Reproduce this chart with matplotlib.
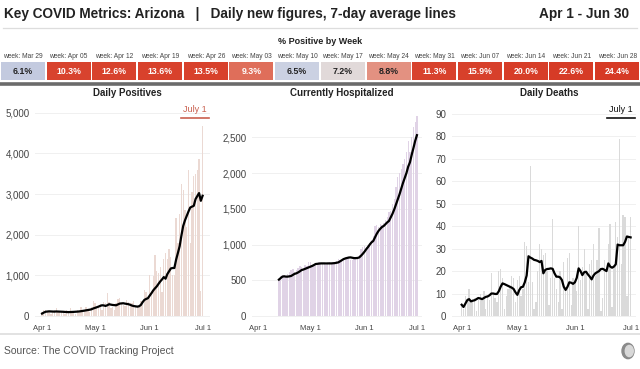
import matplotlib.pyplot as plt
import numpy as np
from matplotlib.colors import LinearSegmentedColormap
from matplotlib.lines import Line2D
from matplotlib.patches import Ellipse

plt.rcParams['font.family'] = ['Liberation Sans', 'DejaVu Sans']

# % positive by week
weeks = ["week: Mar 29", "week: Apr 05", "week: Apr 12", "week: Apr 19", "week: Apr 26",
         "week: May 03", "week: May 10", "week: May 17", "week: May 24", "week: May 31",
         "week: Jun 07", "week: Jun 14", "week: Jun 21", "week: Jun 28"]
pct_pos = [6.1, 10.3, 12.6, 13.6, 13.5, 9.3, 6.5, 7.2, 8.8, 11.3, 15.9, 20.0, 22.6, 24.4]

# days Apr 1 .. Jul 1
positives = [90, 140, 150, 120, 110, 60, 130, 150, 200, 120,
             110, 100, 130, 40, 150, 110, 200, 120, 90, 50,
             140, 110, 210, 150, 130, 230, 120, 100, 230, 380,
             330, 220, 200, 300, 140, 350, 320, 560, 350, 190,
             230, 150, 330, 420, 450, 330, 260, 240, 400, 350,
             320, 330, 370, 250, 220, 250, 370, 380, 650, 600, 410,
             1000, 520, 975, 1500, 1100, 1050, 1200, 600, 1400, 1550,
             1400, 1650, 1450, 1000, 1000, 2400, 1800, 2500, 3250, 3100,
             2600, 2200, 3600, 1800, 3050, 3450, 3500, 3600, 3850, 620, 4680]
positives_avg = [60, 85, 105, 110, 115, 112, 110, 108, 112, 110,
                 108, 106, 104, 100, 98, 96, 98, 100, 102, 105,
                 108, 112, 118, 125, 132, 140, 148, 155, 165, 185,
                 200, 215, 231, 250, 264, 260, 248, 265, 290, 280,
                 272, 268, 264, 285, 305, 310, 314, 305, 298, 290,
                 275, 256, 245, 238, 231, 240, 272, 340, 396, 420, 438,
                 500, 560, 628, 680, 727, 790, 850, 900, 958, 917,
                 1030, 1100, 1170, 1181, 1181, 1388, 1550, 1718, 1980, 2214,
                 2350, 2461, 2570, 2668, 2690, 2709, 2874, 2950, 3023, 2833, 2957]

hosp_start = 12  # first reported day (Apr 13)
hospitalized = [520, 560, 570, 580, 565, 590, 610, 640,
                655, 610, 640, 670, 700, 690, 660, 720, 700, 750,
                760, 720, 700, 740, 730, 760, 745, 730, 740, 720,
                745, 750, 730, 745, 760, 770, 800, 790, 790, 810,
                830, 800, 810, 790, 780, 800, 810, 820, 850, 940, 960,
                980, 970, 1000, 1020, 1060, 1120, 1260, 1270, 1250, 1290,
                1280, 1300, 1350, 1390, 1460, 1470, 1560, 1640, 1800, 1950,
                2000, 2050, 2130, 2200, 2300, 2450, 2300, 2500, 2650, 2720, 2800]
hospitalized_avg = [509, 530, 551, 555, 551, 551, 555, 560,
                    575, 590, 597, 610, 625, 643, 650, 660, 670, 680,
                    690, 700, 712, 727, 730, 733, 736, 736, 736, 735,
                    736, 736, 736, 738, 740, 745, 750, 765, 780, 796,
                    805, 812, 818, 820, 815, 810, 810, 812, 820, 843, 870,
                    900, 935, 965, 1000, 1030, 1050, 1100, 1150, 1190, 1220,
                    1245, 1260, 1285, 1310, 1330, 1380, 1430, 1490, 1560, 1630,
                    1700, 1780, 1860, 1930, 2000, 2090, 2150, 2255, 2350, 2450, 2530]

deaths = [5, 3, 9, 8, 12, 7, 6, 8, 2, 7,
          10, 8, 11, 3, 9, 7, 19, 10, 8, 6,
          20, 21, 17, 3, 9, 12, 13, 18, 17, 6,
          16, 18, 9, 12, 33, 31, 15, 67, 15, 3,
          6, 20, 32, 30, 27, 28, 20, 5, 17, 43,
          17, 12, 6, 20, 3, 24, 12, 26, 28, 5, 17,
          15, 11, 40, 16, 22, 30, 20, 3, 23, 25,
          32, 18, 25, 39, 2, 8, 25, 20, 32, 41,
          4, 22, 42, 35, 79, 23, 45, 44, 9, 35, 44]
deaths_avg = [5, 4, 5.5, 7, 7.5, 6.5, 6.8, 7, 7.5, 8,
              7.8, 7.5, 8, 8.5, 8.7, 9.2, 10, 10, 9.8, 9.8,
              11, 13, 14.5, 14.2, 13.8, 13.4, 13, 12.6, 12, 10.5,
              9.4, 11.5, 12.8, 13, 15, 18, 26.6, 26, 25.6, 25,
              24.8, 24.5, 24, 24.5, 19, 20.5, 20.9, 21, 21.2, 21,
              19, 17.5, 17.5, 17.2, 16, 13, 11.6, 13, 15, 14.8, 14.3,
              15, 17, 21.2, 20, 18.2, 19.5, 19.7, 18.5, 17.5, 16.3,
              18, 19, 19.5, 20, 20.9, 21, 20.5, 20, 23.4, 22,
              21.5, 22, 23, 31.8, 31.5, 31.5, 31.5, 33, 35.4, 35.2, 35]

tick_days = [0, 30, 61, 91]
tick_labels = ["Apr 1", "May 1", "Jun 1", "Jul 1"]

W, H = 640, 369
fig = plt.figure(figsize=(6.4, 3.69), dpi=100)

def fx(px):
    return px / W

def fy(py):
    return 1 - py / H

# header
fig.text(fx(4), fy(14), "Key COVID Metrics: Arizona   |   Daily new figures, 7-day average lines",
         fontsize=9.8, fontweight='bold', color='#222222', va='center', ha='left')
fig.text(fx(629), fy(14), "Apr 1 - Jun 30", fontsize=9.8, fontweight='bold',
         color='#222222', va='center', ha='right')
fig.add_artist(Line2D([fx(3), fx(637)], [fy(28), fy(28)], color='#dddddd', lw=0.9))

# % positive strip
fig.text(0.5, fy(41), "% Positive by Week", fontsize=6.5, fontweight='bold',
         color='#222222', ha='center', va='center')
cmap = LinearSegmentedColormap.from_list(
    'pos', [(0.0, '#bfc8de'), (0.035, '#c4cbdf'), (0.055, '#cdd3e3'), (0.09, '#e3dad8'),
            (0.17, '#e3907f'), (0.195, '#df6a55'), (0.245, '#d8432e'), (1.0, '#d63a25')])
ax_t = fig.add_axes([0, fy(80), 1, 18 / H])
vals = np.array(pct_pos)
cols = cmap((vals - 5.5) / (25 - 5.5))
ax_t.bar(np.arange(len(vals)), 1, width=0.965, color=cols)
for i, v in enumerate(vals):
    ax_t.text(i, 0.5, f"{v:.1f}%", ha='center', va='center', fontsize=6.3,
              fontweight='bold', color='white' if v > 9 else '#222222')
    ax_t.text(i, 1.3, weeks[i], ha='center', va='center', fontsize=4.8, color='#444444')
ax_t.set_xlim(-0.5, len(vals) - 0.5)
ax_t.set_ylim(0, 1)
ax_t.axis('off')
fig.add_artist(Line2D([0, 1], [fy(83.5), fy(83.5)], color='#6b6b6b', lw=2.6))

# panels
ax_bottom = fy(320)
ax_h = 220 / H
panels = [
    dict(left=35, right=210, xlim=(-4, 95.2), ylim=(-98, 5312), title="Daily Positives",
         y=positives, avg=positives_avg, start=0, bar='#ebd9d3',
         yticks=[0, 1000, 2000, 3000, 4000, 5000], note='#c9604f'),
    dict(left=252, right=422, xlim=(-3.4, 93.9), ylim=(-56, 3022), title="Currently Hospitalized",
         y=hospitalized, avg=hospitalized_avg, start=hosp_start, bar='#e0d3e6',
         yticks=[0, 500, 1000, 1500, 2000, 2500], note=None),
    dict(left=452, right=636, xlim=(-5.2, 93.9), ylim=(-1.8, 96.2), title="Daily Deaths",
         y=deaths, avg=deaths_avg, start=0, bar='#dadada',
         yticks=[0, 10, 20, 30, 40, 50, 60, 70, 80, 90], note='#111111'),
]

for p in panels:
    ax = fig.add_axes([fx(p['left']), ax_bottom, (p['right'] - p['left']) / W, ax_h])
    x = np.arange(len(p['y'])) + p['start']
    ax.bar(x, p['y'], width=0.75, color=p['bar'], zorder=2)
    ax.plot(x, p['avg'], color='black', lw=1.6, zorder=3)
    ax.set_xlim(*p['xlim'])
    ax.set_ylim(*p['ylim'])
    ax.set_yticks(p['yticks'])
    ax.set_yticklabels([f"{t:,}" for t in p['yticks']])
    ax.set_xticks(tick_days)
    ax.set_xticklabels(tick_labels)
    ax.tick_params(length=0, colors='#444444')
    ax.tick_params(axis='y', pad=4, labelsize=7)
    ax.tick_params(axis='x', pad=3.5, labelsize=5.5)
    ax.yaxis.grid(True, color='#f0f0f0', lw=0.7, zorder=0)
    for s in ax.spines.values():
        s.set_visible(False)
    fig.text(fx((p['left'] + p['right']) / 2 + 5), fy(93), p['title'], fontsize=7,
             fontweight='bold', color='#222222', ha='center', va='center')
    if p['note']:
        x1 = p['right'] - 1
        fig.text(fx(x1 - 14), fy(110), "July 1", fontsize=6.5, color=p['note'],
                 ha='center', va='center')
        fig.add_artist(Line2D([fx(x1 - 28), fx(x1)], [fy(117.5), fy(117.5)],
                              color=p['note'], lw=1.2))

# footer
fig.add_artist(Line2D([0, 1], [fy(334), fy(334)], color='#dddddd', lw=1.2))
fig.text(fx(4), fy(351), "Source: The COVID Tracking Project", fontsize=7.5,
         color='#555555', va='center', ha='left')
ax_l = fig.add_axes([fx(620), fy(360), 16 / W, 18 / H])
ax_l.add_patch(Ellipse((0.5, 0.5), 0.75, 0.85, color='#8a8a8a'))
ax_l.add_patch(Ellipse((0.58, 0.5), 0.5, 0.62, color='#d8d8d8'))
ax_l.set_xlim(0, 1)
ax_l.set_ylim(0, 1)
ax_l.axis('off')

fig.savefig('out.png', dpi=100)
